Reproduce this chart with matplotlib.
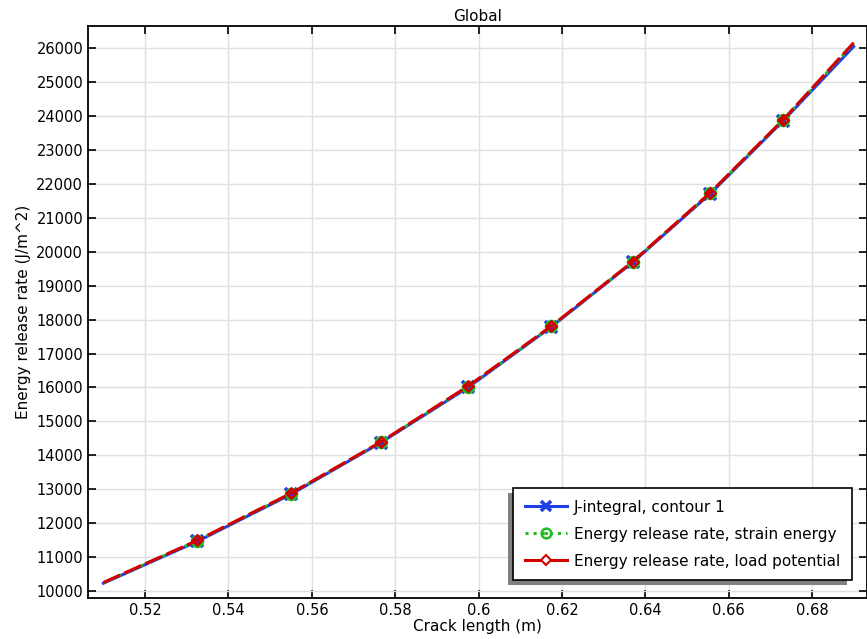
import matplotlib
matplotlib.use("Agg")
import matplotlib.pyplot as plt
from matplotlib.lines import Line2D
from matplotlib.patches import Rectangle

crack_length = [0.51, 0.5325, 0.555, 0.5765, 0.5975, 0.6175, 0.637, 0.6555, 0.673, 0.69]
j_integral = [10230, 11460, 12850, 14370, 16000, 17790, 19690, 21700, 23850, 26050]
g_strain = [10240, 11480, 12870, 14380, 16020, 17800, 19700, 21720, 23870, 26130]
g_load = [10250, 11490, 12880, 14390, 16040, 17810, 19710, 21730, 23880, 26160]
labels = ["J-integral, contour 1", "Energy release rate, strain energy",
          "Energy release rate, load potential"]

fig = plt.figure(figsize=(8.67, 6.39), dpi=100)
ax = fig.add_axes([0.1015, 0.0642, 0.8985, 0.8948])

mk = list(range(1, len(crack_length) - 1))
ax.plot(crack_length, j_integral, color="#1f3fe8", lw=2.2, marker="x", ms=9, mew=2.6,
        markevery=mk, zorder=3)
ax.plot(crack_length, g_strain, color="#22bb22", lw=2.2, ls=":", marker="o", ms=7.5,
        mfc="none", mew=2.2, markevery=mk, zorder=4)
ax.plot(crack_length, g_load, color="#d40000", lw=2.2, ls=(0, (6, 1.5)), marker="D", ms=5,
        mfc="none", mew=1.8, markevery=mk, zorder=5)

ax.set_xlim(0.5063, 0.6932)
ax.set_ylim(9794, 26648)
ax.set_xticks([0.52, 0.54, 0.56, 0.58, 0.6, 0.62, 0.64, 0.66, 0.68])
ax.set_xticklabels(["0.52", "0.54", "0.56", "0.58", "0.6", "0.62", "0.64", "0.66", "0.68"])
ax.set_yticks(range(10000, 26001, 1000))
ax.grid(True, color="#e0e0e0", lw=1)
ax.set_axisbelow(True)
ax.tick_params(direction="in", top=True, right=True, length=6, width=1.2, labelsize=10.5)
for s in ax.spines.values():
    s.set_linewidth(1.3)
ax.set_xlabel("Crack length (m)", fontsize=11, labelpad=1)
ax.set_ylabel("Energy release rate (J/m^2)", fontsize=11)
ax.set_title("Global", fontsize=11, pad=4)

handles = [
    Line2D([], [], color="#1f3fe8", lw=2.2, marker="x", ms=7, mew=2.6),
    (Line2D([], [], color="#22bb22", lw=2.2, ls=":", marker="o", ms=7, mfc="none", mew=1.8),
     Line2D([], [], color="#22bb22", lw=0, marker=".", ms=3)),
    Line2D([], [], color="#d40000", lw=2.2, marker="D", ms=5.5, mfc="white", mew=1.5),
]
leg = ax.legend(handles, labels, loc="lower right", bbox_to_anchor=(0.9807, 0.0315),
                borderaxespad=0, fancybox=False, shadow=False, edgecolor="black",
                framealpha=1, fontsize=11, handlelength=2.75, labelspacing=0.78,
                handletextpad=0.5, borderpad=0.75)
leg.get_frame().set_linewidth(1.2)
leg.set_zorder(10)

fig.canvas.draw()
bb = leg.get_window_extent().transformed(fig.transFigure.inverted())
dx, dy = -5 / 867, -5 / 639
shadow = Rectangle((bb.x0 + dx, bb.y0 + dy), bb.width, bb.height,
                   transform=fig.transFigure, facecolor="#808080",
                   edgecolor="none", zorder=9, clip_on=False)
ax.add_artist(shadow)

fig.savefig("out.png", dpi=100)
